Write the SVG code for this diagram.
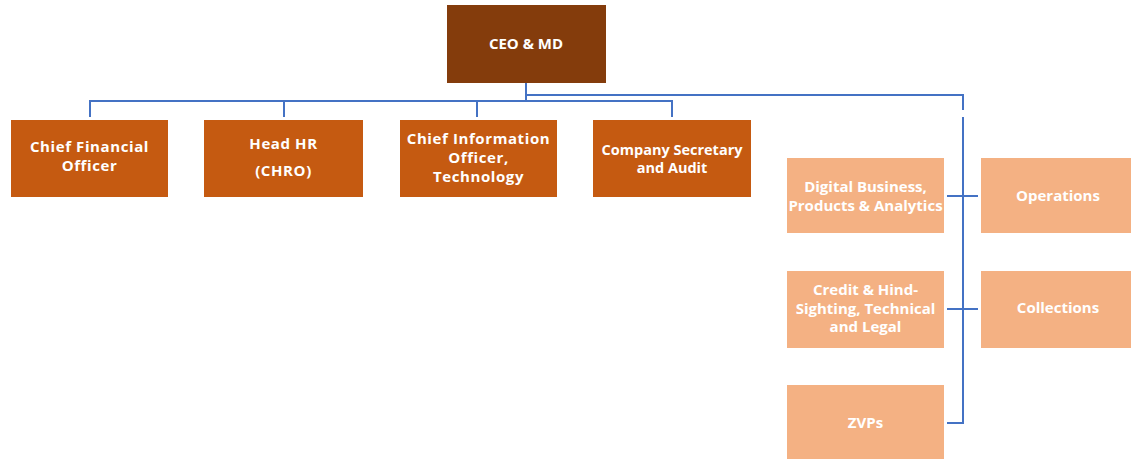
<svg xmlns="http://www.w3.org/2000/svg" width="1131" height="459" viewBox="0 0 1131 459">
<style>
.lbl{font-family:"Open Sans","Liberation Sans",sans-serif;font-weight:bold;fill:#fff;text-anchor:middle}
.l16{font-size:15px;letter-spacing:0.6px}
.l14{font-size:14.5px}
.l15{font-size:15px}
.l13{font-size:15px}
.dark{fill:#843C0C}
.mid{fill:#C55A11}
.light{fill:#F4B183}
.conn{fill:none;stroke:#4472C4;stroke-width:2}
</style>
<rect width="1131" height="459" fill="#fff"/>
<g id="connectors">
<path class="conn" d="M526 83V101M90 117V101H672V117M284 101V117M477 101V117"/>
<path class="conn" d="M526 95H963V110"/>
<path class="conn" d="M963 117V423H947M947 196H978M947 309H978"/>
</g>
<g id="ceo"><rect class="dark" x="447" y="5" width="159" height="78"/><text class="lbl l15" x="526" y="49">CEO &amp; MD</text></g>
<g id="cfo"><rect class="mid" x="11" y="120" width="157" height="77"/><text class="lbl l16" x="89.5" y="152">Chief Financial</text><text class="lbl l16" x="89.5" y="171">Officer</text></g>
<g id="chro"><rect class="mid" x="204" y="120" width="159" height="77"/><text class="lbl l16" x="283.5" y="149">Head HR</text><text class="lbl l16" x="283.5" y="176">(CHRO)</text></g>
<g id="cio"><rect class="mid" x="400" y="120" width="157" height="77"/><text class="lbl l16" x="478.5" y="144">Chief Information</text><text class="lbl l16" x="478.5" y="163">Officer,</text><text class="lbl l16" x="478.5" y="182">Technology</text></g>
<g id="cs"><rect class="mid" x="593" y="120" width="158" height="77"/><text class="lbl l14" x="672" y="155">Company Secretary</text><text class="lbl l14" x="672" y="173">and Audit</text></g>
<g id="digital"><rect class="light" x="787" y="158" width="157" height="75"/><text class="lbl l13" x="865.5" y="192">Digital Business,</text><text class="lbl l13" x="865.5" y="211">Products &amp; Analytics</text></g>
<g id="operations"><rect class="light" x="981" y="158" width="150" height="75"/><text class="lbl l13" x="1058" y="201">Operations</text></g>
<g id="credit"><rect class="light" x="787" y="271" width="157" height="77"/><text class="lbl l13" x="865.5" y="295">Credit &amp; Hind-</text><text class="lbl l13" x="865.5" y="313.5">Sighting, Technical</text><text class="lbl l13" x="865.5" y="332">and Legal</text></g>
<g id="collections"><rect class="light" x="981" y="271" width="150" height="77"/><text class="lbl l13" x="1058" y="313">Collections</text></g>
<g id="zvps"><rect class="light" x="787" y="385" width="157" height="74"/><text class="lbl l13" x="865.5" y="428">ZVPs</text></g>
</svg>
